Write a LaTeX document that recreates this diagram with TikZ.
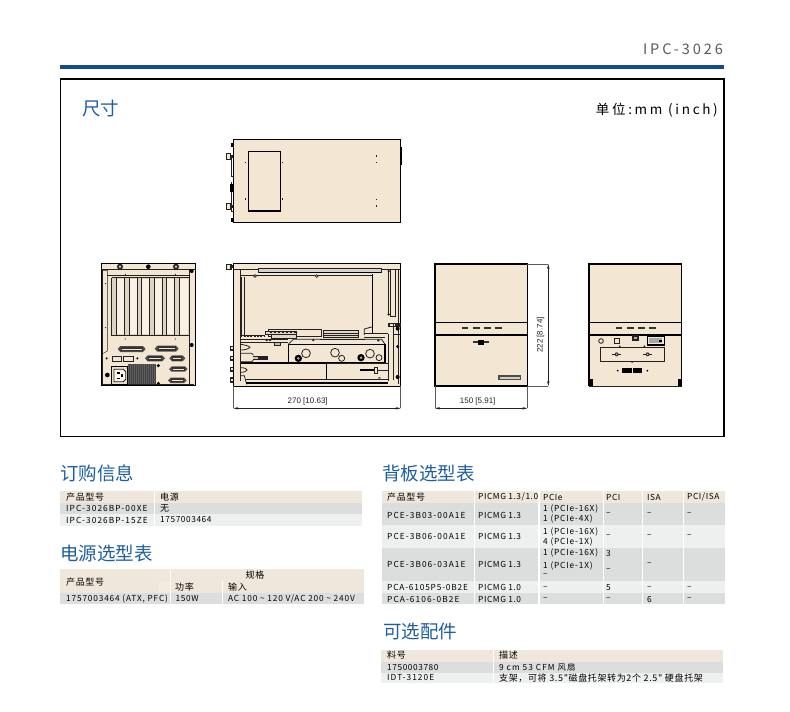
\documentclass[tikz,border=0pt]{standalone}
\usepackage{fontspec}
\setmainfont{Noto Sans CJK SC}
\newfontfamily\tbfont[LetterSpace=7]{Noto Sans CJK SC}
\newfontfamily\tbmid[LetterSpace=10]{Noto Sans CJK SC}
\newfontfamily\tbwide[LetterSpace=13]{Noto Sans CJK SC}
\newfontfamily\wdfont[LetterSpace=20]{Noto Sans CJK SC}
\newfontfamily\dimfont{Liberation Sans}
\definecolor{brandblue}{HTML}{0F4F8C}
\definecolor{titleblue}{HTML}{1F5F9F}
\definecolor{beige}{HTML}{F3E7D3}
\definecolor{headbg}{HTML}{EFE7DB}
\definecolor{rowdark}{HTML}{DCDEDD}
\definecolor{rowlight}{HTML}{EEF0EF}
\definecolor{inkc}{HTML}{222222}
\tikzset{
  cellt/.style={anchor=west,inner sep=0pt,font=\tbfont\fontsize{8.3}{9}\selectfont,text=black},
  cellm/.style={anchor=west,inner sep=0pt,font=\tbmid\fontsize{8.3}{9}\selectfont,text=black},
  cellw/.style={anchor=west,inner sep=0pt,font=\tbwide\fontsize{8.3}{9}\selectfont,text=black},
  cellc/.style={anchor=west,inner sep=0pt,font=\tbfont\fontsize{9}{10}\selectfont,text=black},
  titlet/.style={anchor=west,inner sep=0pt,font=\fontsize{18.5}{20}\selectfont,text=titleblue},
  dimt/.style={inner sep=0pt,font=\dimfont\fontsize{8}{9}\selectfont,text=inkc},
  body/.style={draw=black,fill=beige,line width=1pt},
  fine/.style={draw=inkc,line width=.45pt},
  med/.style={draw=inkc,line width=.8pt},
  heavy/.style={draw=black,line width=1.4pt},
  dimline/.style={draw=gray!70!black,line width=.6pt},
  dimarrow/.style={draw=inkc,line width=.5pt,{Stealth[length=5pt,width=2.4pt]}-{Stealth[length=5pt,width=2.4pt]}},
  zoomed/.style={shift={(#1)},scale=1/3},
  sep/.style={draw=white,line width=1.2pt},
}
\usetikzlibrary{arrows.meta}
\newcommand\cell[4]{\node[cellt] (#1) at (#2,#3) {#4};}
\newcommand\cellM[4]{\node[cellm] (#1) at (#2,#3) {#4};}
\newcommand\cellW[4]{\node[cellw] (#1) at (#2,#3) {#4};}
\newcommand\cellC[4]{\node[cellc] (#1) at (#2,#3) {#4};}
\newcommand\dsub[4]{%
  \fill[gray!60!black] (#1-#3,#2) -- (#1-#3+8,#2-#4) -- (#1+#3-8,#2-#4) -- (#1+#3,#2) -- (#1+#3-8,#2+#4) -- (#1-#3+8,#2+#4) -- cycle;
  \fill[black!80] (#1-#3+9,#2-#4+2) rectangle (#1+#3-9,#2+#4-2);
  \fill[beige] (#1-#3+12,#2-1) rectangle (#1+#3-12,#2+1);}
\newcommand\led[2]{\fill[black!80] (#1,#2-2.5) rectangle (#1+20,#2+2.5);}
\begin{document}
\begin{tikzpicture}[x=1pt,y=-1pt]
\useasboundingbox (0,0) rectangle (790,712);
% header
\node[anchor=east,inner sep=0pt,font=\wdfont\fontsize{14.5}{16}\selectfont,text=black!65] (pagehead) at (723,49) {IPC-3026};
\fill[brandblue] (60,65) rectangle (724,68.8);
\draw[line width=1.3pt,draw=black] (60.7,79) rectangle (724,436.5);
\node[titlet] (dimtitle) at (82,109) {尺寸};
\node[anchor=east,inner sep=0pt,font=\wdfont\fontsize{13.5}{14}\selectfont,text=black] (unit) at (718,110) {单位:mm (inch)};

% ---------- top view
\begin{scope}[zoomed={60,30}]
  \fill[inkc] (497,370) rectangle (512,388);
  \fill[beige,draw=inkc,line width=.5pt] (498,371) rectangle (510,387);
  \fill[beige,draw=inkc,line width=.5pt] (498,520) rectangle (510,538);
  \fill[inkc] (510,374) rectangle (520,384);
  \fill[inkc] (510,524) rectangle (520,534);
  \draw[med] (513,384) -- (513,440) -- (520,440);
  \draw[med] (513,455) -- (513,545) -- (520,545);
  \fill[black] (514,340) rectangle (520,352);
  \fill[black] (511,462) rectangle (520,485);
  \fill[black] (514,565) rectangle (520,575);
  \path[body] (520,328) rectangle (1023,578);
  \fill[black] (1021,350) rectangle (1025,406);
  \draw[heavy] (565,365) rectangle (661,543);
  \foreach \xx/\yy in {557/398,667/398,557/507,667/507,950/378,950/398,950/508,950/528}
    \fill[inkc] (\xx-2,\yy-2) rectangle (\xx+2,\yy+2);
\end{scope}

% ---------- rear view
\begin{scope}[zoomed={90,255}]
  \path[body] (33,25) rectangle (315,392);
  \draw[med] (33,42) -- (315,42);
  \draw[fine] (38,42) -- (38,388) -- (312,388);
  \draw[fine] (38,46) -- (52,46) -- (52,288) -- (38,296);
  \draw[fine] (298,44) -- (298,388);
  \draw[fine] (52,62) -- (298,62);
  \foreach \xx in {90,258}{\fill[inkc] (\xx,35) circle (9); \fill[beige!70!gray] (\xx,35) circle (4);}
  \fill[black] (175,35) circle (7);
  \fill[black] (305,48) circle (6); \fill[black] (305,270) circle (6);
  \fill[black] (52,360) circle (7);
  \fill[inkc] (47,86) circle (1.8); \fill[inkc] (47,218) circle (1.8);
  \fill[inkc] (106,58) circle (1.8); \fill[inkc] (256,58) circle (1.8);
  \fill[inkc] (106,252) circle (1.8); \fill[inkc] (256,252) circle (1.8);
  \fill[beige!82!gray] (65,68) rectangle (298,240);
  \foreach \aa/\bb in {80/104,117/141,155/179,193/217,230/252,267/294}
    \fill[beige!60!white] (\aa,72) rectangle (\bb,236);
  \draw[med] (65,68) -- (298,68) (65,68) -- (65,240) -- (298,240) -- (298,68);
  \foreach \aa in {80,104,117,141,155,179,193,217,230,252,267}
    \draw[fine] (\aa,68) -- (\aa,240);
  \dsub{125}{282}{42}{9}
  \dsub{230}{281}{36}{9}
  \dsub{195}{310}{30}{9}
  \dsub{262}{310}{24}{9}
  \dsub{265}{342}{28}{8}
  \dsub{262}{376}{28}{8}
  \draw[med,fill=beige] (68,303) rectangle (95,318);
  \draw[med,fill=beige] (100,303) rectangle (130,318);
  \fill[black] (50,310) circle (3.5); \fill[black] (142,310) circle (3.5);
  \draw[heavy,fill=beige!90!gray] (65,335) rectangle (112,388);
  \draw[med,fill=white!70!beige] (72,343) -- (100,343) -- (107,350) -- (107,373) -- (100,380) -- (72,380) -- cycle;
  \fill[black] (82,352) rectangle (90,356); \fill[black] (82,368) rectangle (90,372); \fill[black] (94,358) rectangle (100,365);
  \fill[black!75] (113,327) rectangle (197,388);
  \foreach \xx in {116,122,...,194}\foreach \yy in {330,336,...,385}
    \fill[white!80!gray] (\xx,\yy) circle (1.1);
  \fill[black] (205,332) circle (5); \fill[black] (205,385) circle (5);
\end{scope}

% ---------- side view
\begin{scope}[zoomed={225,255}]
  \fill[inkc] (3,26) rectangle (20,44); \fill[beige] (6,29) rectangle (16,41); \fill[inkc] (18,30) rectangle (25,40);
  \foreach \yy in {280,310,343,375}{\fill[inkc] (16,\yy-8) rectangle (25,\yy+8); \fill[beige] (19,\yy-3) rectangle (25,\yy+3);}
  \path[body] (25,25) rectangle (527,393);
  \draw[med] (25,42) -- (527,42);
  \fill[gray!35] (100,42) rectangle (470,52);
  \draw[heavy] (100,53) -- (470,53);
  \draw[med] (100,40) -- (470,40) -- (470,55) (100,40) -- (100,55);
  \draw[med] (47,42) -- (47,378) (47,60) -- (443,60);
  \fill[inkc] (48,65) rectangle (52,240); \fill[inkc] (56,65) rectangle (60,240);
  \draw[heavy] (443,57) -- (443,235) -- (490,235);
  \draw[med] (490,45) -- (490,178) (497,45) -- (497,185) -- (512,185) -- (512,45);
  \draw[med] (520,42) -- (520,388) (505,240) -- (505,375) (490,238) -- (490,378);
  \foreach \xx in {90,275}{\fill[inkc] (\xx,63) circle (5.5); \fill[beige] (\xx,63) circle (2);}
  \fill[inkc] (491,48) circle (4); \fill[inkc] (491,178) circle (4);
  \fill[inkc] (490,205) rectangle (527,215);
  \fill[beige] (494,208) rectangle (510,213);
  \fill[black] (518,221) circle (6); \fill[black] (518,275) circle (5); \fill[black] (518,366) circle (6);
  \draw[med] (505,205) -- (505,240) (527,238) -- (505,238);
  % cards
  \draw[med,fill=beige] (130,222) rectangle (290,245);
  \draw[med,fill=beige!85!gray] (120,229) rectangle (215,237);
  \foreach \xx in {135,147,...,210}\fill[inkc] (\xx,231) rectangle (\xx+5,235);
  \draw[med,fill=beige!85!gray] (140,237) rectangle (215,250);
  \draw[med,fill=beige!85!gray] (295,226) rectangle (400,248);
  \draw[fine] (295,234) -- (400,234) (295,240) -- (400,240);
  \draw[med] (418,240) -- (418,222) -- (443,215);
  \draw[med] (418,235) -- (490,235) (418,248) -- (480,248);
  % dark band
  \fill[inkc] (47,241) rectangle (120,246);
  \foreach \xx in {52,62,...,115}\fill[beige] (\xx,242) rectangle (\xx+4,245);
  \fill[inkc] (47,252) rectangle (190,256);
  \foreach \xx in {125,135,265}\fill[inkc] (\xx,255) circle (4);
  \fill[inkc] (285,252) rectangle (420,256);
  \fill[inkc] (460,256) circle (4);
  \draw[med] (47,262) -- (190,262);
  \draw[fill=gray!50,draw=inkc,line width=.4pt] (148,262) rectangle (165,271);
  % panel
  \draw[heavy] (190,268) -- (480,268) -- (480,322) -- (190,322) -- cycle;
  \draw[med] (190,268) -- (205,253) -- (470,253) -- (480,268);
  \fill[black] (220,310) circle (11); \fill[gray!60] (220,310) circle (4);
  \fill[black] (408,308) circle (11); \fill[gray!60] (408,308) circle (4);
  \draw[med] (243,295) circle (13);
  \draw[med] (330,293) circle (13); \draw[med] (350,310) circle (9);
  \draw[med] (435,296) circle (13); \draw[med] (462,308) circle (9);
  % lower-left
  \draw[med] (47,268) .. controls (60,270) and (70,272) .. (75,277) .. controls (70,282) and (60,285) .. (47,285);
  \draw[med] (47,295) -- (80,295) -- (85,300) (47,320) -- (80,320) -- (85,316);
  \fill[inkc] (85,303) rectangle (130,314);
  \fill[beige!70!gray] (85,306) rectangle (98,311);
  \draw[heavy] (47,324) -- (305,324) -- (305,375);
  \draw[med] (305,326) -- (490,326);
  \draw[med] (47,338) .. controls (60,338) and (66,342) .. (66,345) .. controls (66,348) and (58,352) .. (47,352);
  \draw[med] (47,362) -- (58,362) -- (65,388);
  \draw[heavy] (405,345) -- (447,345);
  \draw[med] (447,336) rectangle (458,354) (458,345) -- (490,345);
  \draw[med] (62,372) -- (490,372);
  \draw[heavy] (62,384) -- (490,384);
  \fill[inkc] (458,370) -- (463,366) -- (468,370) -- cycle;
  % dimension
  \draw[dimline] (25,393) -- (25,460) coordinate (sl);
  \draw[dimline] (527,393) -- (527,460) coordinate (sr);
  \draw[dimarrow] (sl) -- (sr);
  \node[dimt] (sidedim) at (248,440) {270 [10.63]};
\end{scope}

% ---------- front + right views
\begin{scope}[zoomed={425,255}]
  \path[body] (30,27) rectangle (307,393);
  \draw[heavy] (30,27) rectangle (307,393);
  \draw[heavy] (30,203) -- (307,203) (30,240) -- (307,240);
  \foreach \xx in {110,144,178,210} \led{\xx}{218}
  \fill[black!80] (145,259) rectangle (193,265); \fill[black] (160,255) rectangle (178,269);
  \fill[black!70] (220,361) rectangle (288,376); \fill[gray!40] (225,365) rectangle (284,372);
  \draw[dimline] (307,27) -- (370,27) coordinate (ft);
  \draw[dimline] (307,393) -- (370,393) coordinate (fb);
  \draw[dimarrow] (ft) -- (fb);
  \node[dimt,rotate=90] (heightdim) at (347,240) {222 [8.74]};
  \draw[dimline] (30,393) -- (30,460) coordinate (fl);
  \draw[dimline] (307,393) -- (307,460) coordinate (fr);
  \draw[dimarrow] (fl) -- (fr);
  \node[dimt] (widthdim) at (158,440) {150 [5.91]};
  % right view
  \path[body] (492,27) rectangle (770,393);
  \draw[heavy] (492,393) -- (492,27) -- (770,27) -- (770,393);
  \draw[heavy] (492,203) -- (770,203) (492,240) -- (770,240);
  \draw[med] (492,393) -- (770,393);
  \foreach \xx in {572,606,640,673} \led{\xx}{218}
  \fill[black] (492,372) rectangle (503,393); \fill[black] (760,372) rectangle (770,393);
  \draw[med] (528,258) circle (7);
  \draw[med] (568,251) rectangle (583,266);
  \fill[inkc] (620,241) rectangle (642,257); \fill[gray!60] (626,245) rectangle (636,251);
  \draw[heavy] (667,245) rectangle (718,270);
  \fill[gray!70] (672,250) rectangle (712,265);
  \fill[black] (702,255) rectangle (712,260);
  \draw[med] (527,277) rectangle (718,320);
  \fill[inkc] (584,274) circle (3); \fill[inkc] (658,274) circle (3); \fill[inkc] (621,321) circle (3);
  \foreach \xx in {575,668}{\fill[inkc] (\xx-14,296) rectangle (\xx+14,300); \fill[black!80] (\xx,298) circle (6); \fill[beige] (\xx,298) circle (2);}
  \fill[black] (592,340) rectangle (620,354); \fill[black] (624,340) rectangle (652,354);
  \fill[black] (578,347) circle (3); \fill[black] (667,347) circle (3);
\end{scope}

% ---------- table 1
\node[titlet] (t1title) at (60,473.5) {订购信息};
\fill[headbg] (60,491) rectangle (362,502.7);
\fill[rowdark] (60,502.7) rectangle (362,514);
\fill[rowlight] (60,514) rectangle (362,525.7);
\draw[sep] (154.3,491) -- (154.3,525.7);
\cellC{ta}{66}{497}{产品型号}\cellC{tb}{160}{497}{电源}
\cellW{tc}{66}{508.5}{IPC-3026BP-00XE}\cellC{td}{160}{508.5}{无}
\cellW{te}{66}{520}{IPC-3026BP-15ZE}\cell{tf}{160}{520}{1757003464}

% ---------- table 2
\node[titlet] (t2title) at (60,553) {电源选型表};
\fill[headbg] (60,569.3) rectangle (364,592.7);
\fill[rowdark] (60,592.7) rectangle (364,604.3);
\draw[sep] (170.7,569.3) -- (170.7,604.3) (222.3,581) -- (222.3,604.3);
\fill[headbg!85!white] (159,581) rectangle (170,592.7);
\cellC{ua}{66}{581.7}{产品型号}
\node[cellc,anchor=center] (ub) at (255,575.5) {规格};
\cellC{uc}{175}{587.5}{功率}\cellC{ud}{228}{587.5}{输入}
\cellM{ue}{66}{598.5}{1757003464 (ATX, PFC)}\cell{uf}{175.5}{598.5}{150W}
\cellM{ug}{228}{598.5}{AC 100 {\char"7E} 120 V/AC 200 {\char"7E} 240V}

% ---------- table 3
\node[titlet] (t3title) at (382,473.5) {背板选型表};
\fill[headbg] (381.7,491) rectangle (725,502.7);
\fill[rowdark] (381.7,502.7) rectangle (725,525);
\fill[rowlight] (381.7,525) rectangle (725,547.7);
\fill[rowdark] (381.7,547.7) rectangle (725,581);
\fill[rowlight] (381.7,581) rectangle (725,592.7);
\fill[rowdark] (381.7,592.7) rectangle (725,604.3);
\foreach \xx in {474.3,539,603.3,642.7,683.3}\draw[sep] (\xx,491) -- (\xx,604.3);
\cellC{va}{387}{497}{产品型号}\cell{vb}{478}{497}{PICMG 1.3/1.0}\cell{vc}{543}{497}{PCIe}\cell{vd}{606}{497}{PCI}\cell{ve}{647}{497}{ISA}\cell{vf}{687}{497}{PCI/ISA}
\cellW{ra}{387}{515}{PCE-3B03-00A1E}\cell{rb}{478}{515}{PICMG 1.3}\cellM{rc}{543}{508.7}{1 (PCIe-16X)}\cellM{rd}{543}{519.3}{1 (PCIe-4X)}\cell{re}{606}{514}{–}\cell{rf}{647}{514}{–}\cell{rg}{687}{514}{–}
\cellW{sa}{387}{536.7}{PCE-3B06-00A1E}\cell{sb}{478}{536.7}{PICMG 1.3}\cellM{sc}{543}{531.7}{1 (PCIe-16X)}\cellM{sd}{543}{541.7}{4 (PCIe-1X)}\cell{se}{606}{536}{–}\cell{sf}{647}{536}{–}\cell{sg}{687}{536}{–}
\cellW{wa}{387}{564.7}{PCE-3B06-03A1E}\cell{wb}{478}{564.7}{PICMG 1.3}\cellM{wc}{543}{553.3}{1 (PCIe-16X)}\cellM{wd}{543}{566}{1 (PCIe-1X)}\cell{wh}{543}{575}{–}\cell{we}{606}{553.3}{3}\cell{wi}{606}{570}{–}\cell{wf}{647}{564.3}{–}
\cellM{xa}{387}{587.7}{PCA-6105P5-0B2E}\cell{xb}{478}{587.7}{PICMG 1.0}\cell{xc}{543}{587.7}{–}\cell{xd}{606}{587.7}{5}\cell{xe}{647}{587.7}{–}\cell{xf}{687}{587.7}{–}
\cellW{ya}{387}{599.3}{PCA-6106-0B2E}\cell{yb}{478}{599.3}{PICMG 1.0}\cell{yc}{543}{599.3}{–}\cell{yd}{606}{599.3}{–}\cell{ye}{647}{599.3}{6}\cell{yf}{687}{599.3}{–}

% ---------- table 4
\node[titlet] (t4title) at (383,631.5) {可选配件};
\fill[headbg] (381,650) rectangle (723,661.7);
\fill[rowdark] (381,661.7) rectangle (723,672.7);
\fill[rowlight] (381,672.7) rectangle (723,683.3);
\draw[sep] (493.3,650) -- (493.3,683.3);
\cellC{za}{387}{655.5}{料号}\cellC{zb}{499}{655.5}{描述}
\cell{zc}{387}{667.3}{1750003780}\cellW{zd}{499}{667.3}{9 cm 53 CFM 风扇}
\cellW{ze}{387}{677.8}{IDT-3120E}\cellC{zf}{499}{677.8}{支架，可将 3.5"磁盘托架转为2个 2.5" 硬盘托架}
\end{tikzpicture}
\end{document}
